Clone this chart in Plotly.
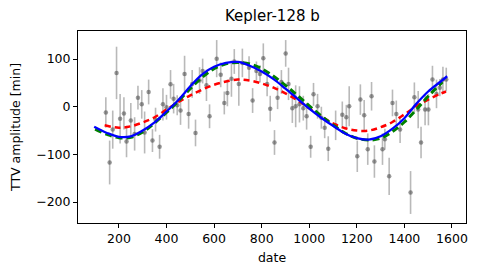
import plotly.graph_objects as go

# observed transit timing variations
obs_date = [145, 161, 174, 190, 205, 221, 232, 250, 266, 280, 296, 308, 325, 341, 354, 371, 385, 400,
            417, 430, 445, 459, 476, 493, 508, 522, 539, 552, 568, 581, 611, 628, 643, 656, 673, 685,
            704, 719, 747, 762, 778, 793, 807, 823, 836, 854, 867, 883, 901, 913, 929, 943, 959, 975,
            989, 1006, 1018, 1035, 1051, 1065, 1080, 1111, 1139, 1156, 1168, 1202, 1215, 1231, 1246,
            1262, 1274, 1308, 1318, 1336, 1350, 1366, 1382, 1426, 1442, 1458, 1470, 1487, 1501, 1518,
            1535, 1549, 1562, 1576]
obs_ttv = [-12, -117, -48, 71, -25, -14, -73, -29, -57, 19, 5, -54, 31, -71, -27, -84, 5, -1,
           47, 17, 3, -8, 69, -15, 48, -55, 55, 75, 45, -20, 101, 67, 8, 29, 59, 95,
           48, 92, 82, 13, 75, 69, 102, 48, -4, -75, 19, 52, 112, 48, -3, 1, 5, -3,
           -20, -84, 26, 1, -23, -44, -88, -39, -17, -22, 1, -104, 15, -18, -89,
           22, -115, -89, -68, -146, 8, -15, -48, -180, 20, -6, -75, -6, -6, 57,
           27, 40, 57, 57]
obs_err = [32, 46, 40, 55, 52, 34, 33, 37, 35, 25, 30, 44, 26, 24, 25, 25, 34, 26,
           30, 31, 21, 30, 38, 31, 29, 28, 28, 26, 33, 25, 39, 26, 24, 28, 38, 26,
           46, 30, 24, 26, 20, 18, 31, 26, 27, 26, 24, 25, 28, 34, 31, 44, 38, 26,
           28, 23, 24, 26, 23, 22, 26, 31, 28, 26, 42, 33, 32, 32, 33,
           30, 34, 33, 22, 39, 28, 28, 28, 45, 31, 39, 33, 33, 33, 29,
           30, 18, 27, 25]

# model curves
red_date = [140, 200, 250, 300, 350, 400, 450, 500, 550, 600, 650, 700, 750, 800, 850, 900, 950,
            1000, 1050, 1100, 1150, 1200, 1250, 1300, 1350, 1400, 1450, 1500, 1550, 1575]
red_ttv = [-39, -44, -41, -33, -22, -6, 10, 24, 36, 46, 53, 57, 55, 49, 40, 28, 14,
           -3, -20, -35, -45, -50, -50, -43, -32, -16, 1, 15, 27, 32]

green_date = [100, 150, 200, 250, 300, 350, 400, 450, 500, 550, 600, 650, 700, 750, 800, 850, 900,
              950, 1000, 1050, 1100, 1150, 1200, 1250, 1300, 1350, 1400, 1450, 1500, 1560]
green_ttv = [-47, -58, -65, -64, -53, -34, -12, 12, 38, 62, 80, 90, 93, 90, 80, 64, 45,
             24, 2, -19, -38, -55, -66, -70, -66, -52, -32, -6, 22, 52]

blue_date = [96, 150, 200, 250, 300, 350, 400, 450, 500, 550, 600, 650, 700, 750, 800, 850, 900,
             950, 1000, 1050, 1100, 1150, 1200, 1250, 1300, 1350, 1400, 1450, 1500, 1550, 1580]
blue_ttv = [-42, -55, -63, -62, -50, -33, -10, 14, 43, 68, 84, 92, 94, 86, 74, 58, 38,
            17, -4, -23, -40, -56, -66, -69, -62, -46, -24, 6, 32, 52, 64]

x_ticks = [200, 400, 600, 800, 1000, 1200, 1400, 1600]
y_ticks = [-200, -100, 0, 100]

FONT = "DejaVu Sans"
PAGE_OFFSET = 8  # default body margin of the html page

fig = go.Figure()
fig.add_trace(go.Scatter(
    x=obs_date, y=obs_ttv, mode="markers",
    marker=dict(color="rgba(70,70,70,0.55)", size=4.5),
    error_y=dict(type="data", array=obs_err, visible=True,
                 color="rgba(128,128,128,0.55)", thickness=1.6, width=0),
    showlegend=False))
fig.add_trace(go.Scatter(x=red_date, y=red_ttv, mode="lines", line_shape="spline",
                         line=dict(color="#ff0000", width=2.5, dash="6px,4px"), showlegend=False))
fig.add_trace(go.Scatter(x=green_date, y=green_ttv, mode="lines", line_shape="spline",
                         line=dict(color="#008000", width=3, dash="7px,4px"), showlegend=False))
fig.add_trace(go.Scatter(x=blue_date, y=blue_ttv, mode="lines", line_shape="spline",
                         line=dict(color="#0000ff", width=2.3), showlegend=False))

axis_common = dict(showline=True, mirror=True, linecolor="black", linewidth=1,
                   ticks="outside", ticklen=4, tickcolor="black", tickwidth=1,
                   showgrid=False, zeroline=False, automargin=False,
                   tickfont=dict(family=FONT, size=12.5, color="black"))

fig.update_layout(
    width=480, height=276,
    margin=dict(l=78 - PAGE_OFFSET, r=14 + PAGE_OFFSET, t=31 - PAGE_OFFSET, b=53 + PAGE_OFFSET),
    paper_bgcolor="white", plot_bgcolor="white",
    font=dict(family=FONT, color="black"),
    xaxis=dict(range=[28, 1659], tickvals=x_ticks,
               title=dict(text="date", font=dict(family=FONT, size=12.5), standoff=8),
               **axis_common),
    yaxis=dict(range=[-244, 159], tickvals=y_ticks,
               title=dict(text="TTV amplitude [min]", font=dict(family=FONT, size=12.5), standoff=12),
               **axis_common),
    annotations=[dict(text="Kepler-128 b", x=0.5, y=1, xref="paper", yref="paper",
                      xanchor="center", yanchor="bottom", yshift=4, showarrow=False,
                      font=dict(family=FONT, size=15, color="black"))],
)

fig.write_html("out.html")
